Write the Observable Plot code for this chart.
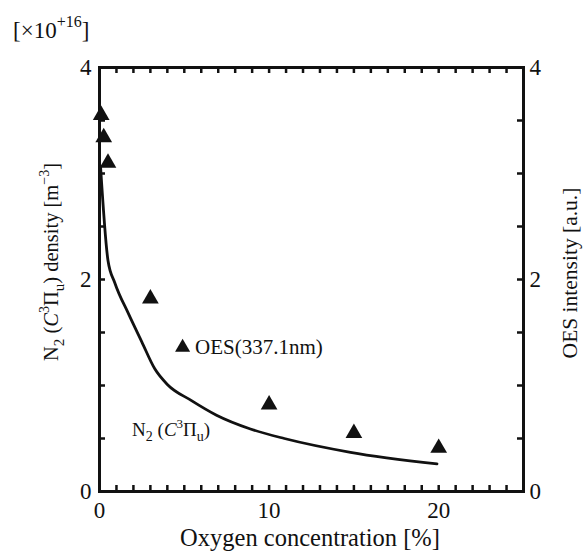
<!DOCTYPE html>
<html><head><meta charset="utf-8">
<script src="https://cdn.jsdelivr.net/npm/d3@7"></script>
<script src="https://cdn.jsdelivr.net/npm/@observablehq/plot@0.6"></script>
<style>body{margin:0;background:#fff} svg text{font-family:"Liberation Serif","Tinos","Times New Roman","DejaVu Serif",serif !important;}</style>
</head><body><div id="chart"></div>
<script>
// OES (337.1 nm) intensity, a.u.
const oesX = [0.1, 0.25, 0.5, 3, 10, 15, 20];
const oesY = [3.55, 3.34, 3.1, 1.82, 0.82, 0.55, 0.41];
// N2(C3Πu) density, ×10^16 m^-3
const n2X = [0.06, 0.5, 0.9, 1.7, 2.5, 3.25, 4.0, 5.4, 6.9, 8.9, 10.9, 14.8, 19.9];
const n2Y = [3.07, 2.18, 1.97, 1.68, 1.41, 1.16, 1.01, 0.86, 0.72, 0.59, 0.50, 0.37, 0.26];
const xTickLabels = [0, 10, 20];
const yTickLabels = [0, 2, 4];
const xMinor = d3.range(0, 26, 1);
const yMinor = d3.range(0, 4.01, 0.5);
// annotation anchors in data units
const oesKey = [{x: 4.9, y: 1.36}];
const n2Key = [{x: 1.95, y: 0.52}];

const W = 583, H = 554, mL = 99, mR = 60, mT = 67, mB = 63;
const iw = W - mL - mR, ih = H - mT - mB;
const oes = oesX.map((x, i) => ({x, y: oesY[i]}));
const n2 = n2X.map((x, i) => ({x, y: n2Y[i]}));
const font = "Liberation Serif, Tinos, Times New Roman, serif";

const chart = Plot.plot({
  width: W, height: H, marginLeft: mL, marginRight: mR, marginTop: mT, marginBottom: mB,
  style: {fontFamily: font, fontSize: "22px", background: "white", color: "#111"},
  x: {domain: [0, 25]},
  y: {domain: [0, 4]},
  marks: [
    Plot.tickX(xMinor, {x: d => d, insetTop: ih - 6, stroke: "#111", strokeWidth: 2.5}),
    Plot.tickX(xMinor, {x: d => d, insetBottom: ih - 6, stroke: "#111", strokeWidth: 2.5}),
    Plot.tickY(yMinor, {y: d => d, insetRight: iw - 6, stroke: "#111", strokeWidth: 2.5}),
    Plot.tickY(yMinor, {y: d => d, insetLeft: iw - 6, stroke: "#111", strokeWidth: 2.5}),
    Plot.axisX({ticks: xTickLabels, tickFormat: d => String(d), tickSize: 0, tickPadding: 10, label: null, fontSize: 23}),
    Plot.axisY({ticks: yTickLabels, tickFormat: d => String(d), tickSize: 0, tickPadding: 8, label: null, fontSize: 23, anchor: "left"}),
    Plot.axisY({ticks: yTickLabels, tickFormat: d => String(d), tickSize: 0, tickPadding: 6, label: null, fontSize: 23, anchor: "right"}),
    Plot.line(n2, {x: "x", y: "y", stroke: "#111", strokeWidth: 2.8, curve: "monotone-x"}),
    Plot.dot(oes, {x: "x", y: "y", symbol: "triangle", fill: "#111", r: 6.2}),
    Plot.dot(oesKey, {x: "x", y: "y", symbol: "triangle", fill: "#111", r: 5.6}),
    Plot.frame({stroke: "#111", strokeWidth: 3})
  ]
});
document.getElementById("chart").appendChild(chart);

const svg = d3.select(chart);
function rich(sel, parts) {
  parts.forEach(p => {
    const t = sel.append("tspan").text(p.t);
    if (p.dy) t.attr("dy", p.dy);
    if (p.fs) t.attr("font-size", p.fs);
    if (p.it) t.attr("font-style", "italic");
  });
}
function txt() {
  return svg.append("text").attr("text-anchor", "start").attr("fill", "#111");
}
const xs = d3.scaleLinear([0, 25], [mL, W - mR]);
const ys = d3.scaleLinear([0, 4], [H - mB, mT]);

// unit multiplier
rich(txt().attr("x", 13).attr("y", 38).attr("font-size", 23),
  [{t: "[×10"}, {t: "+16", fs: 16, dy: -11}, {t: "]", dy: 11}]);

// left y label
rich(txt().attr("transform", `translate(58,262) rotate(-90)`)
  .attr("text-anchor", "middle").attr("font-size", 20.5),
  [{t: "N"}, {t: "2", fs: 15, dy: 6}, {t: " (", dy: -6}, {t: "C", it: true}, {t: "3", fs: 14, dy: -9},
   {t: "Π", dy: 9}, {t: "u", fs: 15, dy: 6}, {t: ") density [m", dy: -6}, {t: "−3", fs: 14, dy: -9}, {t: "]", dy: 9}]);

// right y label
txt().attr("transform", `translate(577,273) rotate(-90)`)
  .attr("text-anchor", "middle").attr("font-size", 21.5)
  .text("OES intensity [a.u.]");

// x label
txt().attr("x", 310).attr("y", 546).attr("text-anchor", "middle").attr("font-size", 24.5)
  .text("Oxygen concentration [%]");

// annotations
txt().attr("x", xs(oesKey[0].x) + 13).attr("y", ys(oesKey[0].y) + 7).attr("font-size", 21)
  .text("OES(337.1nm)");
rich(txt().attr("x", xs(n2Key[0].x)).attr("y", ys(n2Key[0].y)).attr("font-size", 19),
  [{t: "N"}, {t: "2", fs: 14, dy: 5}, {t: " (", dy: -5}, {t: "C", it: true}, {t: "3", fs: 13, dy: -8},
   {t: "Π", dy: 8}, {t: "u", fs: 14, dy: 5}, {t: ")", dy: -5}]);
</script>
</body></html>
